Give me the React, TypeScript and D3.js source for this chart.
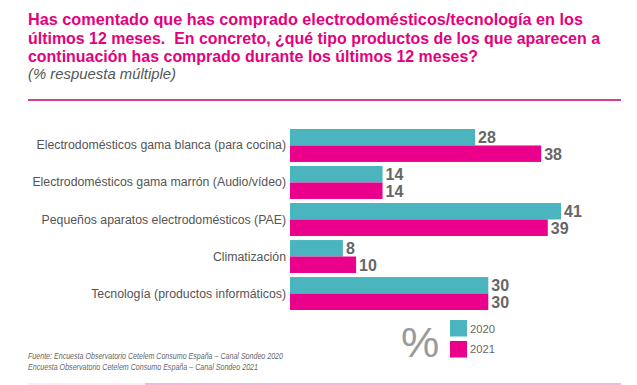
import * as d3 from 'd3';
import React, { useRef, useEffect } from 'react';

const categories = [
  'Electrodomésticos gama blanca (para cocina)',
  'Electrodomésticos gama marrón (Audio/vídeo)',
  'Pequeños aparatos electrodomésticos (PAE)',
  'Climatización',
  'Tecnología (productos informáticos)',
];
const years = ['2020', '2021'];
const values2020 = [28, 14, 41, 8, 30];
const values2021 = [38, 14, 39, 10, 30];

const titleLines = [
  'Has comentado que has comprado electrodomésticos/tecnología en los',
  'últimos 12 meses.  En concreto, ¿qué tipo productos de los que aparecen a',
  'continuación has comprado durante los últimos 12 meses?',
];
const subtitle = '(% respuesta múltiple)';
const sources = [
  'Fuente: Encuesta Observatorio Cetelem Consumo España – Canal Sondeo 2020',
  'Encuesta Observatorio Cetelem Consumo España – Canal Sondeo 2021',
];

const colors = { '2020': '#4ab4bf', '2021': '#eb008b' };

const App = () => {
  const ref = useRef<SVGSVGElement>(null);
  const width = 637;
  const height = 385;

  useEffect(() => {
    document.body.style.margin = '0';
    const svg = d3.select(ref.current);
    svg.selectAll('*').remove();
    const font = 'Liberation Sans, Arial, sans-serif';

    // title (slightly squeezed with a transform so it fits the width)
    const titleW = [555, 572, 450];
    const sx = 0.88;
    titleLines.forEach((t, i) => {
      svg.append('g')
        .attr('transform', `translate(28,${25 + i * 18.5}) scale(${sx},1)`)
        .append('text')
        .attr('xml:space', 'preserve')
        .attr('font-family', font).attr('font-weight', 'bold')
        .attr('font-size', 16.3).attr('fill', '#e5007d')
        .attr('textLength', titleW[i] / sx).attr('lengthAdjust', 'spacingAndGlyphs')
        .text(t);
    });
    svg.append('text')
      .attr('x', 28).attr('y', 79)
      .attr('font-family', font).attr('font-style', 'italic')
      .attr('font-size', 14.5).attr('fill', '#555')
      .attr('textLength', 148).attr('lengthAdjust', 'spacingAndGlyphs')
      .text(subtitle);
    svg.append('line')
      .attr('x1', 28).attr('x2', 621).attr('y1', 100).attr('y2', 100)
      .attr('stroke', '#d63c9b').attr('stroke-width', 2);

    // scales
    const x = d3.scaleLinear().domain([0, 41]).range([290, 561]);
    const y = d3.scaleBand().domain(categories).range([129, 310]).paddingInner(0.11);
    const ySub = d3.scaleBand().domain(years).range([0, y.bandwidth()]);

    const data = categories.map((c, i) => ({ c, v: { '2020': values2020[i], '2021': values2021[i] } }));

    const g = svg.append('g');
    data.forEach((d) => {
      years.forEach((yr) => {
        const v = d.v[yr];
        const y0 = (y(d.c) as number) + (ySub(yr) as number);
        g.append('rect')
          .attr('x', x(0)).attr('y', y0)
          .attr('width', x(v) - x(0)).attr('height', ySub.bandwidth())
          .attr('fill', colors[yr]);
        g.append('text')
          .attr('x', x(v) + 3).attr('y', y0 + ySub.bandwidth() / 2 + 6)
          .attr('font-family', font).attr('font-weight', 'bold')
          .attr('font-size', 16).attr('fill', '#666')
          .text(v);
      });
      svg.append('text')
        .attr('x', 286).attr('y', (y(d.c) as number) + y.bandwidth() / 2 + 4)
        .attr('text-anchor', 'end')
        .attr('font-family', font).attr('font-size', 12.3).attr('fill', '#555')
        .text(d.c);
    });

    // legend
    svg.append('text')
      .attr('x', 401).attr('y', 357)
      .attr('font-family', font).attr('font-size', 43).attr('fill', '#9a9a9a')
      .text('%');
    years.forEach((yr, i) => {
      svg.append('rect')
        .attr('x', 450).attr('y', 320 + i * 21).attr('width', 17).attr('height', 16.5)
        .attr('fill', colors[yr]);
      svg.append('text')
        .attr('x', 470).attr('y', 333 + i * 20)
        .attr('font-family', font).attr('font-size', 11.2).attr('fill', '#666')
        .text(yr);
    });

    // sources
    sources.forEach((s, i) => {
      svg.append('text')
        .attr('x', 28).attr('y', 359 + i * 10.5)
        .attr('font-family', font).attr('font-style', 'italic')
        .attr('font-size', 8.3).attr('fill', '#666')
        .attr('textLength', i === 0 ? 255 : 230).attr('lengthAdjust', 'spacingAndGlyphs')
        .text(s);
    });

    svg.append('line')
      .attr('x1', 28).attr('x2', 145).attr('y1', 384).attr('y2', 384)
      .attr('stroke', '#fbe6f3').attr('stroke-width', 1.5);
    svg.append('line')
      .attr('x1', 145).attr('x2', 621).attr('y1', 384).attr('y2', 384)
      .attr('stroke', '#ee9fd3').attr('stroke-width', 1.5);
  }, []);

  return <svg ref={ref} width={width} height={height} style={{ display: 'block', background: '#fff' }}></svg>;
};

export default App;
